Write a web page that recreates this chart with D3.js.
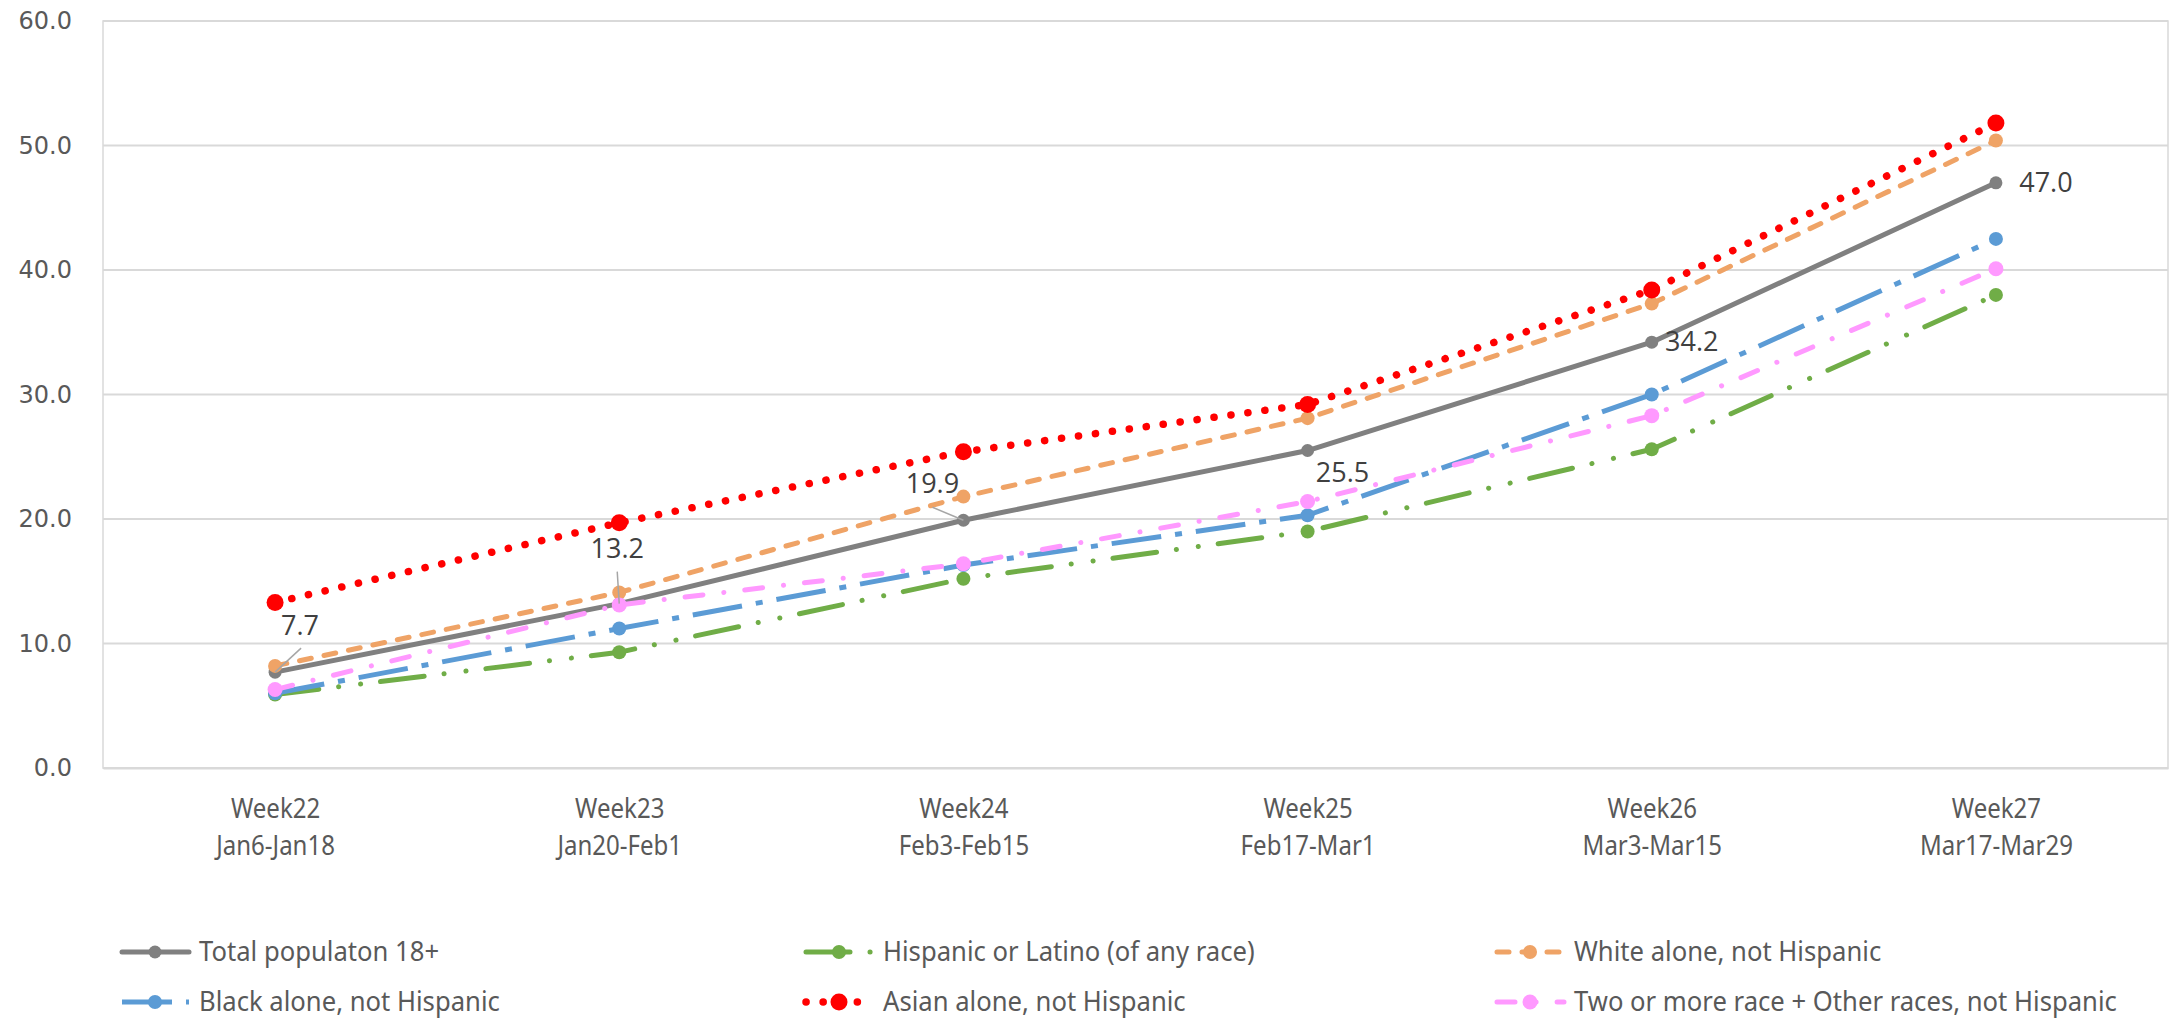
<!DOCTYPE html>
<html>
<head>
<meta charset="utf-8">
<script src="https://cdn.jsdelivr.net/npm/d3@7"></script>
<style>
  html, body { margin: 0; padding: 0; background: #ffffff; }
  svg { display: block; }
</style>
</head>
<body>
<script>
// ---------- data ----------
const weeks = ["Week22", "Week23", "Week24", "Week25", "Week26", "Week27"];
const dateRanges = ["Jan6-Jan18", "Jan20-Feb1", "Feb3-Feb15", "Feb17-Mar1", "Mar3-Mar15", "Mar17-Mar29"];
const seriesNames = [
  "Total populaton 18+",
  "Hispanic or Latino (of any race)",
  "White alone, not Hispanic",
  "Black alone, not Hispanic",
  "Asian alone, not Hispanic",
  "Two or more race + Other races, not Hispanic"
];
const totalValues    = [7.7, 13.2, 19.9, 25.5, 34.2, 47.0];
const hispanicValues = [5.9, 9.3, 15.2, 19.0, 25.6, 38.0];
const whiteValues    = [8.2, 14.1, 21.8, 28.1, 37.3, 50.4];
const blackValues    = [6.0, 11.2, 16.3, 20.3, 30.0, 42.5];
const asianValues    = [13.3, 19.7, 25.4, 29.2, 38.4, 51.8];
const twoMoreValues  = [6.3, 13.1, 16.4, 21.4, 28.3, 40.1];
const yTicks = [0, 10, 20, 30, 40, 50, 60];

// ---------- styles ----------
const W = 2178, H = 1022;
const plot = { left: 103, right: 2168, top: 21, bottom: 768 };
const narrowFont = "'Noto Sans', 'Open Sans', sans-serif";
const styles = [
  { color: "#808080", width: 5,   dash: null,                      cap: "round", r: 6.5 },
  { color: "#70AD47", width: 5,   dash: "44 20 0.1 22 0.1 20",     cap: "round", r: 7 },
  { color: "#EFA366", width: 5,   dash: "12 13",                   cap: "round", r: 7 },
  { color: "#5B9BD5", width: 5,   dash: "50 14 7 14",              cap: "butt",  r: 7 },
  { color: "#FF0000", width: 7.5, dash: "0.1 17",                  cap: "round", r: 8.5 },
  { color: "#FF99FF", width: 5,   dash: "18 21 0.1 21",            cap: "round", r: 7.5 }
];
const seriesValues = [totalValues, hispanicValues, whiteValues, blackValues, asianValues, twoMoreValues];
// label offsets for total series (dx, dy from point to label baseline centre) + leader end offsets
const labelOffsets = [[25, -37], [-2, -46], [-31, -27], [35, 31], [40, 9], [50, 9]];
const leaderEnds = [[26, -24], [-2, -32], [-31, -13], null, null, null];

const svg = d3.select("body").append("svg").attr("width", W).attr("height", H);

const x = d3.scalePoint().domain(weeks).range([plot.left, plot.right]).padding(0.5);
const y = d3.scaleLinear().domain([0, 60]).range([plot.bottom, plot.top]);

// gridlines
svg.append("g").selectAll("line").data(yTicks).join("line")
  .attr("x1", plot.left).attr("x2", plot.right)
  .attr("y1", d => y(d)).attr("y2", d => y(d))
  .attr("stroke", "#D9D9D9").attr("stroke-width", 2);
svg.append("rect").attr("x", plot.left).attr("y", plot.top)
  .attr("width", plot.right - plot.left).attr("height", plot.bottom - plot.top)
  .attr("fill", "none").attr("stroke", "#D9D9D9").attr("stroke-width", 1.5);

// y axis
const yAxis = svg.append("g").attr("transform", `translate(${plot.left},0)`)
  .call(d3.axisLeft(y).tickValues(yTicks).tickFormat(d3.format(".1f")).tickSize(0).tickPadding(31));
yAxis.select(".domain").remove();
yAxis.selectAll("text").attr("font-family", "'DejaVu Sans', sans-serif").attr("font-size", 24).attr("fill", "#595959");

// x axis
const xAxis = svg.append("g").attr("transform", `translate(0,${plot.bottom})`)
  .call(d3.axisBottom(x).tickSize(0).tickFormat(""));
xAxis.select(".domain").attr("stroke", "#D9D9D9").attr("stroke-width", 2);
xAxis.selectAll(".tick").each(function(d, i) {
  const g = d3.select(this).append("g").attr("transform", "scale(0.89,1)");
  g.append("text").attr("y", 50).attr("text-anchor", "middle")
    .attr("font-family", narrowFont).attr("font-size", 27).attr("fill", "#595959")
    .text(d);
  g.append("text").attr("y", 87).attr("text-anchor", "middle")
    .attr("font-family", narrowFont).attr("font-size", 27).attr("fill", "#595959")
    .text(dateRanges[i]);
});

// lines
const line = d3.line().x((d, i) => x(weeks[i])).y(d => y(d));
const series = svg.append("g").selectAll("g").data(seriesValues).join("g");
series.append("path")
  .attr("d", d => line(d))
  .attr("fill", "none")
  .attr("stroke", (d, i) => styles[i].color)
  .attr("stroke-width", (d, i) => styles[i].width)
  .attr("stroke-dasharray", (d, i) => styles[i].dash)
  .attr("stroke-linecap", (d, i) => styles[i].cap)
  .attr("stroke-linejoin", "round");
series.each(function(vals, si) {
  d3.select(this).selectAll("circle").data(vals).join("circle")
    .attr("cx", (d, i) => x(weeks[i])).attr("cy", d => y(d))
    .attr("r", styles[si].r).attr("fill", styles[si].color);
});

// data labels (total series)
const lbl = svg.append("g");
totalValues.forEach((v, i) => {
  const px = x(weeks[i]), py = y(v);
  const [dx, dy] = labelOffsets[i];
  const le = leaderEnds[i];
  if (le) {
    lbl.append("line").attr("x1", px).attr("y1", py).attr("x2", px + le[0]).attr("y2", py + le[1])
      .attr("stroke", "#A6A6A6").attr("stroke-width", 1.5);
  }
  lbl.append("text").attr("x", px + dx).attr("y", py + dy)
    .attr("text-anchor", "middle")
    .attr("font-family", "'Open Sans', sans-serif").attr("font-size", 27).attr("fill", "#404040")
    .text(d3.format(".1f")(v));
});

// legend
const legCols = [122, 806, 1497];
const legRows = [952, 1002];
const legend = svg.append("g");
seriesNames.forEach((name, i) => {
  const lx = legCols[i % 3], ly = legRows[Math.floor(i / 3)];
  const s = styles[i];
  const g = legend.append("g").attr("transform", `translate(${lx},${ly})`);
  g.append("line").attr("x1", 0).attr("x2", 67).attr("y1", 0).attr("y2", 0)
    .attr("stroke", s.color).attr("stroke-width", s.width)
    .attr("stroke-dasharray", s.dash).attr("stroke-linecap", s.cap);
  g.append("circle").attr("cx", 33).attr("cy", 0).attr("r", s.r).attr("fill", s.color);
  g.append("text").attr("transform", "translate(77,0) scale(0.95,1)").attr("dy", "0.35em")
    .attr("font-family", narrowFont).attr("font-size", 27).attr("fill", "#595959")
    .text(name);
});
</script>
</body>
</html>
